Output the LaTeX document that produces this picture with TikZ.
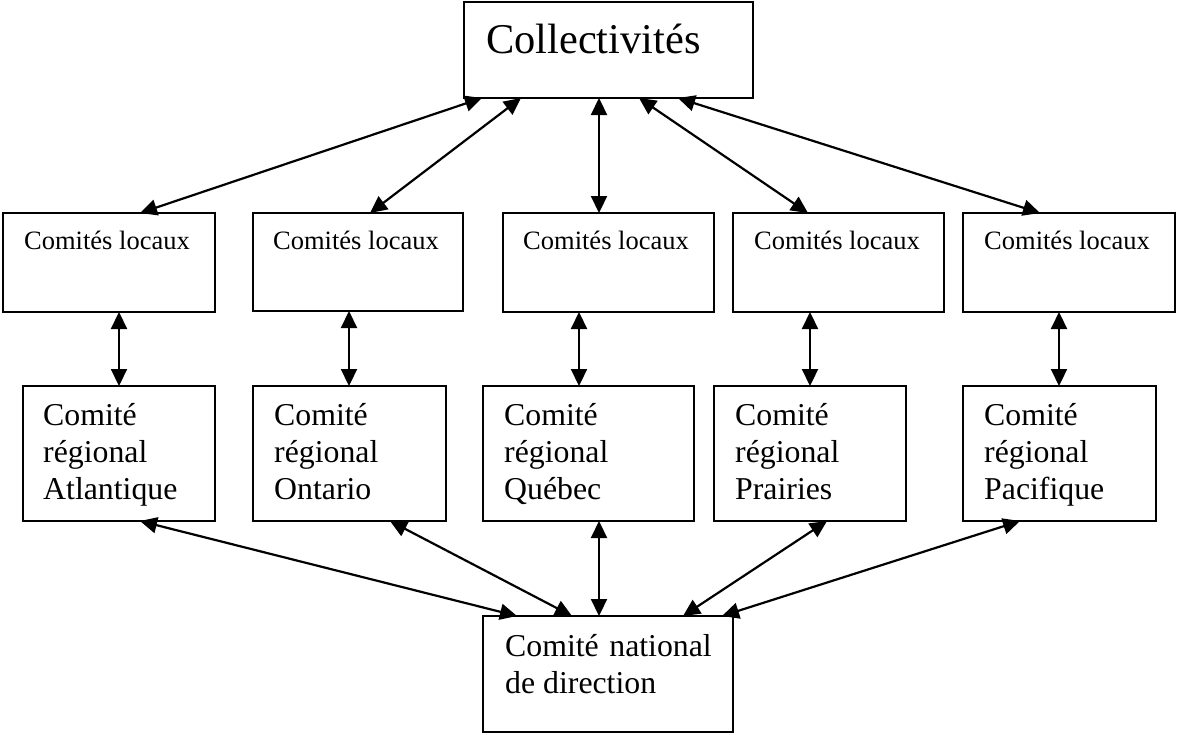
\documentclass[tikz,border=0pt]{standalone}
\usepackage{fontspec}
\setmainfont{Liberation Serif}
\usetikzlibrary{arrows.meta,calc}
\begin{document}
\begin{tikzpicture}[x=1pt,y=-1pt,
  box/.style={draw,line width=2pt,inner sep=0pt,outer sep=0pt,anchor=north west},
  txt/.style={inner sep=0pt,anchor=base west,align=left},
  small/.style={font=\fontsize{26.5pt}{30pt}\selectfont},
  mid/.style={font=\fontsize{31.8pt}{37pt}\selectfont},
  big/.style={font=\fontsize{42.4pt}{48pt}\selectfont},
  link/.style={line width=2.2pt,{Triangle[length=17pt,width=16pt]}-{Triangle[length=17pt,width=16pt]}}]
\useasboundingbox (0,0) rectangle (1177,734);
% boxes
\node[box,minimum width=289pt,minimum height=96pt] (coll) at (464,2) {};
\node[box,minimum width=212pt,minimum height=99pt] (L1) at (3,213) {};
\node[box,minimum width=210pt,minimum height=98pt] (L2) at (253,213) {};
\node[box,minimum width=211pt,minimum height=99pt] (L3) at (503,213) {};
\node[box,minimum width=211pt,minimum height=99pt] (L4) at (733,213) {};
\node[box,minimum width=212pt,minimum height=99pt] (L5) at (963,213) {};
\node[box,minimum width=192pt,minimum height=135pt] (R1) at (23,386) {};
\node[box,minimum width=193pt,minimum height=135pt] (R2) at (253,386) {};
\node[box,minimum width=211pt,minimum height=135pt] (R3) at (483,386) {};
\node[box,minimum width=192pt,minimum height=135pt] (R4) at (714,386) {};
\node[box,minimum width=193pt,minimum height=135pt] (R5) at (963,386) {};
\node[box,minimum width=250pt,minimum height=116pt] (N) at (483,616) {};
% texts (base anchor = baseline of last line)
\node[txt,big] (tcoll) at (486,53) {Collectivités};
\node[txt,small] (tL1) at (24,249) {Comités locaux};
\node[txt,small] (tL2) at (273,249) {Comités locaux};
\node[txt,small] (tL3) at (523,249) {Comités locaux};
\node[txt,small] (tL4) at (754,249) {Comités locaux};
\node[txt,small] (tL5) at (984,249) {Comités locaux};
\node[txt,mid] (tR1) at (43,499) {Comité\\régional\\Atlantique};
\node[txt,mid] (tR2) at (274,499) {Comité\\régional\\Ontario};
\node[txt,mid] (tR3) at (504,499) {Comité\\régional\\Québec};
\node[txt,mid] (tR4) at (735,499) {Comité\\régional\\Prairies};
\node[txt,mid] (tR5) at (984,499) {Comité\\régional\\Pacifique};
\node[txt,mid] (tN) at (505,693) {Comité\hspace{10.5pt}national\\de direction};
% connectors top
\draw[link] ($(coll.south west)+(18,0)$) -- ($(L1.north west)+(137,0)$);
\draw[link] ($(coll.south west)+(57,0)$) -- ($(L2.north west)+(117,0)$);
\draw[link] ($(coll.south west)+(135,0)$) -- ($(L3.north west)+(96,0)$);
\draw[link] ($(coll.south west)+(175,0)$) -- ($(L4.north west)+(75,0)$);
\draw[link] ($(coll.south west)+(214,0)$) -- ($(L5.north west)+(77,0)$);
% verticals
\draw[link] ($(L1.south west)+(116,0)$) -- ($(R1.north west)+(96,0)$);
\draw[link] ($(L2.south west)+(96,0)$) -- ($(R2.north west)+(96,0)$);
\draw[link] ($(L3.south west)+(76,0)$) -- ($(R3.north west)+(96,0)$);
\draw[link] ($(L4.south west)+(77,0)$) -- ($(R4.north west)+(96,0)$);
\draw[link] ($(L5.south west)+(96,0)$) -- ($(R5.north west)+(96,0)$);
% bottom
\draw[link] ($(R1.south west)+(117,0)$) -- ($(N.north west)+(34,0)$);
\draw[link] ($(R2.south west)+(137,0)$) -- ($(N.north west)+(89,0)$);
\draw[link] ($(R3.south west)+(116,0)$) -- ($(N.north west)+(116,0)$);
\draw[link] ($(R4.south west)+(113,0)$) -- ($(N.north west)+(200,0)$);
\draw[link] ($(R5.south west)+(57,0)$) -- ($(N.north west)+(239,0)$);
\end{tikzpicture}
\end{document}
